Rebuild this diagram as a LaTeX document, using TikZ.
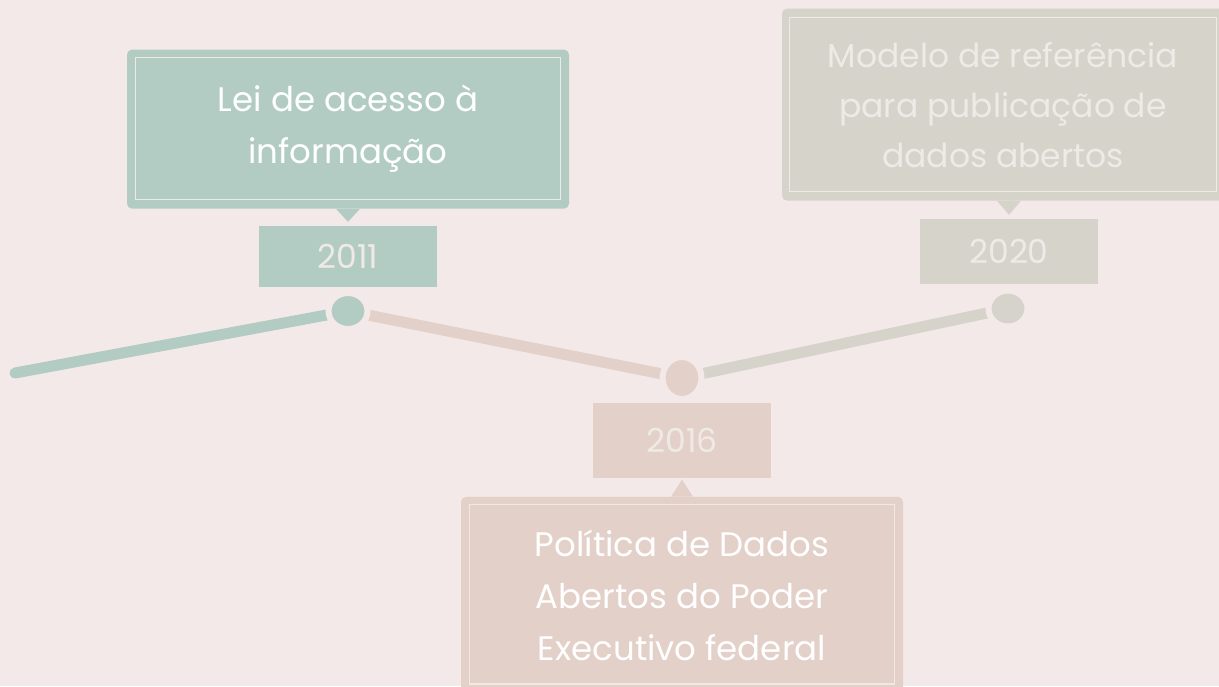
\documentclass[tikz,border=0pt]{standalone}
\usepackage{fontspec}
\setmainfont{Poppins}
\usepackage{xcolor}
\usepackage{tikz}
\usetikzlibrary{calc}
\usetikzlibrary{positioning}
\usetikzlibrary{shapes}
\usetikzlibrary{backgrounds}

\definecolor{bgpink}{HTML}{F3E9E8}
\definecolor{sage}{HTML}{B2CCC3}
\definecolor{rose}{HTML}{E3D0C9}
\definecolor{stone}{HTML}{D6D3CB}
\definecolor{paper}{HTML}{FFFFFF}
\definecolor{fadetext}{HTML}{F0EAE7}

\begin{document}
\begin{tikzpicture}[x=1pt,y=-1pt,
      event style/.style={rectangle,rounded corners=5pt,minimum
        width=442pt,align=center,inner sep=0pt,font=\fontsize{34}{52}\selectfont},
      year style/.style={rectangle,minimum width=178pt,text=fadetext,
        font=\fontsize{33}{40}\selectfont},
      dot style/.style={ellipse,draw=bgpink,line width=6pt,minimum
        width=39pt,minimum height=36pt,inner sep=0pt},
      line style/.style={line width=11pt,line cap=round},
      frame style/.style={draw=fadetext,line width=1.3pt}
      ]

      \clip (0,0) rectangle (1219,686);
      \begin{scope}[on background layer]
        \fill[bgpink] (0,0) rectangle (1219,686);
      \end{scope}

      \node[year style, fill=sage, minimum height=61pt] (y2011) at (348,256.5) {\raisebox{-5pt}{2011}};
      \node[year style, fill=rose, minimum height=75pt] (y2016) at (682,440) {2016};
      \node[year style, fill=stone, minimum height=65pt] (y2020) at (1009,251.5) {\raisebox{-3pt}{2020}};

      \node[event style, fill=sage, text=paper, minimum height=159pt, above=17pt of y2011] (lei) {Lei de acesso à\\informação};
      \node[event style, fill=rose, text=paper, minimum height=196pt, below=19pt of y2016] (politica) {Política de Dados\\Abertos do Poder\\Executivo federal};
      \node[event style, fill=stone, text=fadetext, minimum height=192pt, above=18pt of y2020, xshift=-6pt,
        font=\fontsize{33}{50}\selectfont] (modelo) {\raisebox{-4pt}{\parbox{420pt}{\centering Modelo de referência\\para publicação de\\dados abertos}}};

      \draw[frame style] ($(lei.north west)+(9,8)$) rectangle ($(lei.south east)+(-9,-9)$);
      \draw[frame style] ($(politica.north west)+(9,8)$) rectangle ($(politica.south east)+(-9,-9)$);
      \draw[frame style] ($(modelo.north west)+(8,9)$) rectangle ($(modelo.south east)+(-8,-9)$);

      \fill[sage] ($(lei.south)+(-12,0)$) -- ($(lei.south)+(12,0)$) -- ($(lei.south)+(0,13)$) -- cycle;
      \fill[stone] ($(modelo.south)+(-12,0)+(6,0)$) -- ($(modelo.south)+(12,0)+(6,0)$) -- ($(modelo.south)+(6,14)$) -- cycle;
      \fill[rose] ($(politica.north)+(-11,0)$) -- ($(politica.north)+(11,0)$) -- ($(politica.north)+(0,-17)$) -- cycle;

      \node[dot style, fill=sage] (dot2011) at (348,311) {};
      \node[dot style, fill=rose, minimum height=42pt] (dot2016) at (682,378) {};
      \node[dot style, fill=stone] (dot2020) at (1008,308.5) {};

      \coordinate (start) at (15,373);
      \begin{scope}[on background layer]
        \draw[line style, sage] (start) -- (dot2011.center);
        \draw[line style, rose] (dot2011.center) -- (dot2016.center);
        \draw[line style, stone] (dot2016.center) -- (dot2020.center);
      \end{scope}

    \end{tikzpicture}
\end{document}
